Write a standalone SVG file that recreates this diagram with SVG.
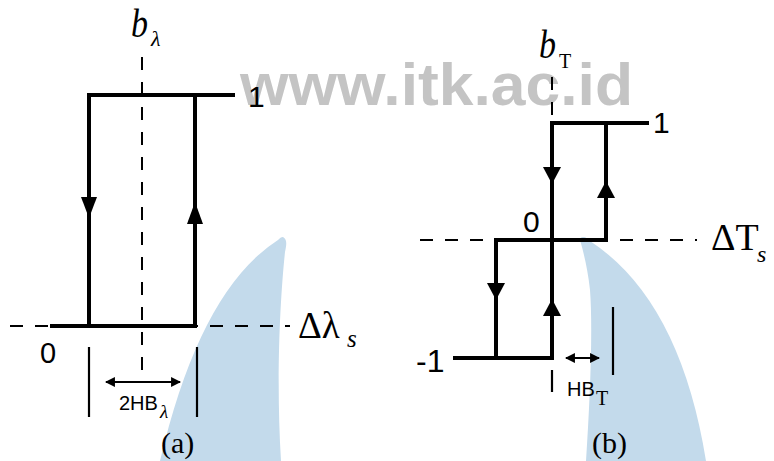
<svg xmlns="http://www.w3.org/2000/svg" width="774" height="461" viewBox="0 0 774 461">
<style>
.thick{stroke:#000;stroke-width:4;fill:none;stroke-linecap:square}
.dash{stroke:#000;stroke-width:2;fill:none;stroke-dasharray:13 12}
.thin{stroke:#000;stroke-width:2.2;fill:none}
.ah{fill:#000}
.sans{font-family:"Liberation Sans",Arial,sans-serif;fill:#000}
.serif{font-family:"Liberation Serif","Times New Roman",serif;fill:#000}
.wm{font-family:"Liberation Sans",Arial,sans-serif;font-weight:bold;fill:#c4c4c4}
.blue{fill:#c3daeb}
</style>
<defs>
<marker id="dh" viewBox="0 0 10 10" refX="9" refY="5" markerWidth="4.5" markerHeight="4.5" orient="auto-start-reverse">
<path d="M0,0 L10,5 L0,10 z" fill="#000"/>
</marker>
</defs>
<rect width="774" height="461" fill="#fff"/>
<text class="wm" x="240" y="105" font-size="60" textLength="393" lengthAdjust="spacingAndGlyphs">www.itk.ac.id</text>
<path class="blue" d="M283,237 C288,240 286,246 285,252 C280,300 276,380 281,461 L160,461 Q200,290 278,240 C280,238 281,237 283,237 z"/>
<path class="blue" d="M583,237 C586,237 588,239 590,241 Q680,300 706,461 L586,461 C590,400 593,330 590,290 C588,270 583,250 580,240 C580,238 581,237 583,237 z"/>

<g id="panel-a">
<line class="dash" x1="142" y1="57" x2="142" y2="375"/>
<line class="dash" x1="10" y1="326" x2="290" y2="326"/>
<path class="thick" d="M233,95 H89 V326 H195 V95"/>
<line class="thick" x1="52" y1="326" x2="89" y2="326"/>
<path class="ah" d="M81,197 L97,197 L89,218 z"/>
<path class="ah" d="M187,224 L203,224 L195,202 z"/>
<line class="thin" x1="89" y1="347" x2="89" y2="417"/>
<line class="thin" x1="197" y1="347" x2="197" y2="417"/>
<line class="thin" x1="106" y1="382" x2="180" y2="382" marker-start="url(#dh)" marker-end="url(#dh)"/>
<text class="sans" x="248" y="107" font-size="30">1</text>
<text class="sans" x="40" y="363" font-size="29">0</text>
<text class="serif" x="131" y="37" font-size="40" font-style="italic" textLength="17" lengthAdjust="spacingAndGlyphs">b</text>
<text class="serif" x="151" y="46" font-size="22" font-style="italic">λ</text>
<text class="serif" x="298" y="338" font-size="37">Δλ</text>
<text class="serif" x="347" y="347" font-size="25" font-style="italic">s</text>
<text class="sans" x="119" y="410" font-size="20">2HB</text>
<text class="serif" x="160" y="418" font-size="19" font-style="italic">λ</text>
<text class="serif" x="161" y="453" font-size="30">(a)</text>
</g>

<g id="panel-b">
<line class="dash" x1="552" y1="77" x2="552" y2="124" stroke-dasharray="12 12"/>
<line class="dash" x1="420" y1="240" x2="697" y2="240" stroke-dasharray="15 13"/>
<path class="thick" d="M647,123 H552 V358 H455"/>
<path class="thick" d="M606,123 V240 H496 V358"/>
<path class="ah" d="M543,167 L561,167 L552,184 z"/>
<path class="ah" d="M597,198 L615,198 L606,181 z"/>
<path class="ah" d="M487,283 L505,283 L496,300 z"/>
<path class="ah" d="M543,316 L561,316 L552,299 z"/>
<line class="thin" x1="552" y1="370" x2="552" y2="392"/>
<line class="thin" x1="613" y1="307" x2="613" y2="375"/>
<line class="thin" x1="566" y1="358" x2="599" y2="358" marker-start="url(#dh)" marker-end="url(#dh)"/>
<text class="sans" x="653" y="133" font-size="30">1</text>
<text class="sans" x="523" y="232" font-size="30">0</text>
<text class="sans" x="416" y="372" font-size="32">-1</text>
<text class="serif" x="539" y="58" font-size="40" font-style="italic" textLength="17" lengthAdjust="spacingAndGlyphs">b</text>
<text class="serif" x="559" y="68" font-size="20">T</text>
<text class="serif" x="711" y="250" font-size="38">ΔT</text>
<text class="serif" x="757" y="262" font-size="24" font-style="italic">s</text>
<text class="sans" x="567" y="396" font-size="20">HB</text>
<text class="serif" x="596" y="405" font-size="20">T</text>
<text class="serif" x="592" y="453" font-size="30">(b)</text>
</g>
</svg>
